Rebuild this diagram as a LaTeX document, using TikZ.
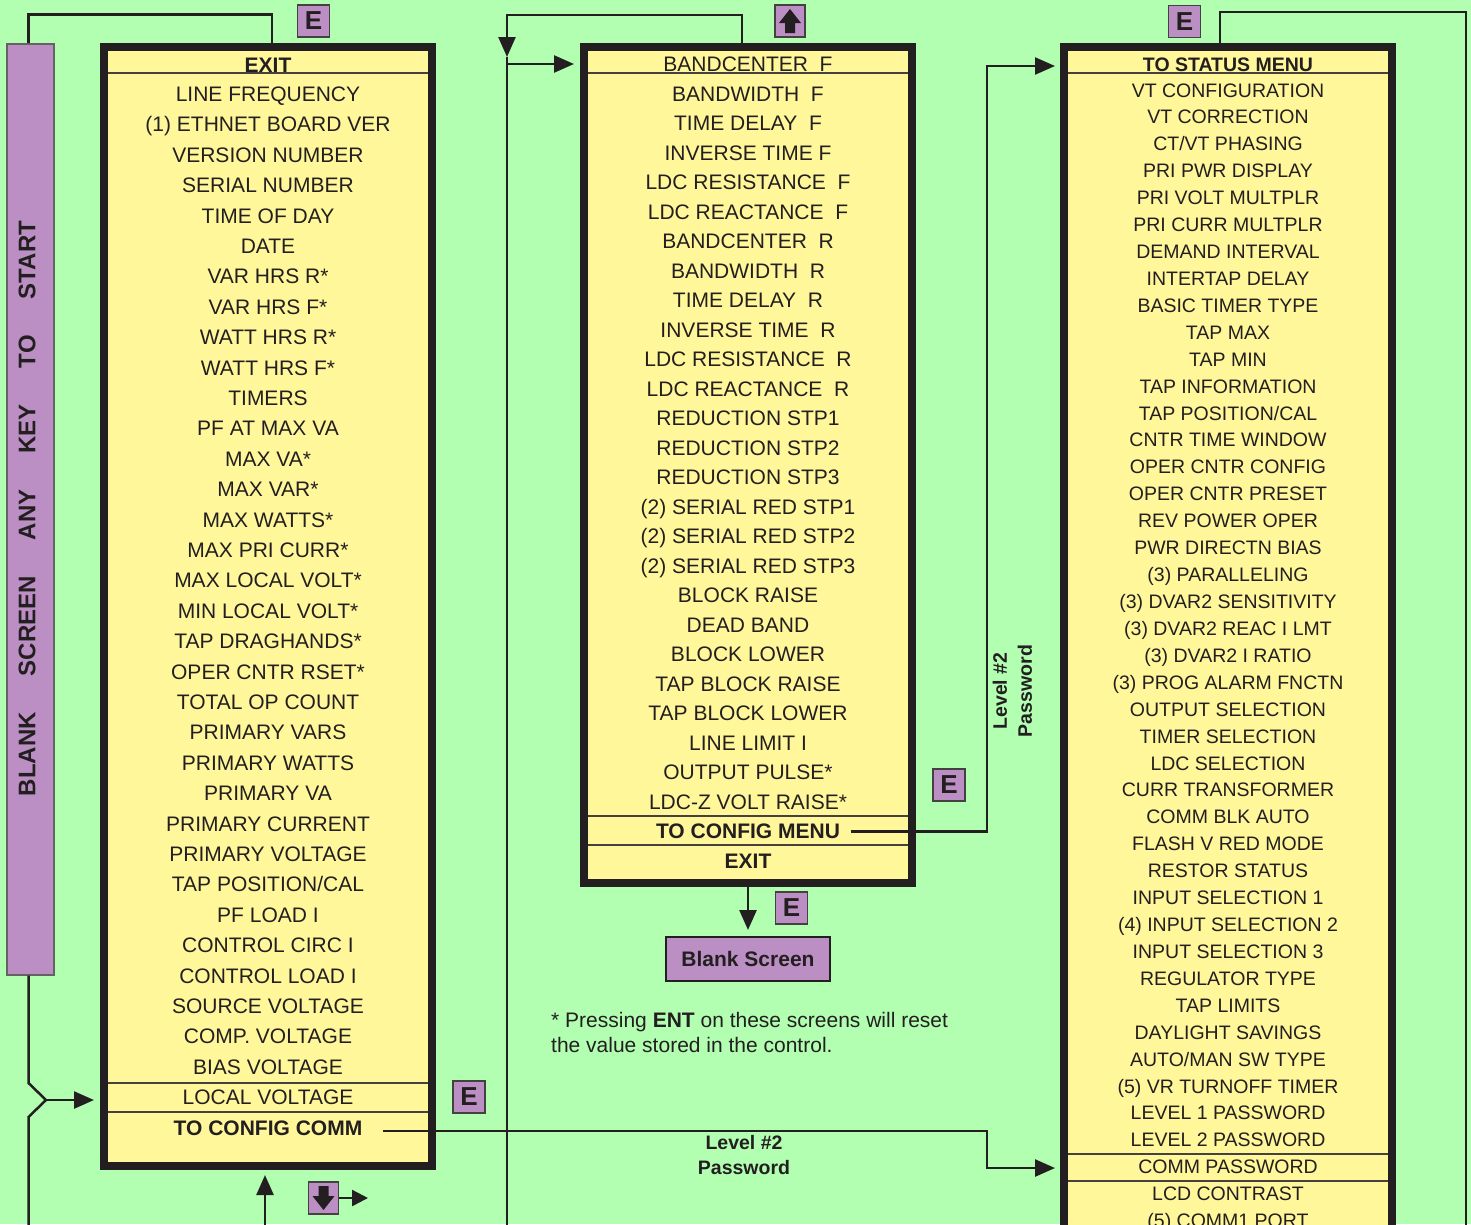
\documentclass[tikz,border=0pt]{standalone}
\usepackage{fontspec}
\setmainfont{Liberation Sans}
\usetikzlibrary{arrows.meta}

\definecolor{bggreen}{RGB}{178,255,178}
\definecolor{menuyellow}{RGB}{255,247,153}
\definecolor{keypurple}{RGB}{187,143,196}
\definecolor{inkblack}{RGB}{35,31,32}

\tikzset{
  menubox/.style={draw=inkblack, line width=8pt, fill=menuyellow, inner sep=0pt},
  menuitem/.style={anchor=base, inner sep=0pt, text=inkblack, font=\fontsize{21}{21}\selectfont},
  menuhead/.style={menuitem, font=\bfseries\fontsize{21}{21}\selectfont},
  statusitem/.style={menuitem, font=\fontsize{19.5}{19.5}\selectfont},
  statushead/.style={menuitem, font=\bfseries\fontsize{19.5}{19.5}\selectfont},
  rowline/.style={draw=inkblack!85, line width=1.3pt},
  keycap/.style={draw=inkblack!85, line width=1.2pt, fill=keypurple, minimum width=32pt,
    minimum height=32pt, inner sep=0pt, text=inkblack, font=\bfseries\fontsize{26}{26}\selectfont},
  startbox/.style={draw=inkblack!70, line width=1.2pt, fill=keypurple, minimum width=47pt,
    minimum height=931pt, inner sep=0pt},
  blankbox/.style={draw=inkblack, line width=2pt, fill=keypurple, minimum width=164pt,
    minimum height=44pt, inner sep=0pt, text=inkblack, font=\bfseries\fontsize{21}{21}\selectfont},
  pwlabel/.style={align=center, inner sep=0pt, text=inkblack, font=\bfseries\fontsize{19.5}{25}\selectfont},
  note/.style={anchor=base west, inner sep=0pt, text=inkblack, font=\fontsize{21}{21}\selectfont},
  flow/.style={draw=inkblack, line width=2.5pt},
  >={Triangle[length=20pt,width=17pt]}
}

\begin{document}
\begin{tikzpicture}[x=1pt,y=-1pt]
  \useasboundingbox (0,0) rectangle (1471,1224);
  \clip (0,0) rectangle (1471,1224);
  \fill[bggreen] (0,0) rectangle (1471,1224);

  % blank screen bar
  \node[startbox] (startbar) at (30.5,509.5) {};
  \node[rotate=90, inner sep=0pt, text=inkblack, font=\bfseries\fontsize{24}{24}\selectfont]
    (startlabel) at (27,508.5)
    {BLANK\hspace{36pt}SCREEN\hspace{36pt}ANY\hspace{36pt}KEY\hspace{36pt}TO\hspace{36pt}START};

  % the three menu columns
  \node[menubox, minimum width=328pt, minimum height=1119pt] (menuA) at (268,606.5) {};
  \node[menubox, minimum width=328pt, minimum height=836pt] (menuB) at (748,465) {};
  \node[menubox, minimum width=328pt, minimum height=1213pt] (menuC) at (1228,653.5) {};

  % row separators
  \draw[rowline] (108,73) -- (428,73);
  \draw[rowline] (108,1083) -- (428,1083);
  \draw[rowline] (108,1112) -- (428,1112);
  \draw[rowline] (588,73) -- (908,73);
  \draw[rowline] (588,816) -- (908,816);
  \draw[rowline] (588,845) -- (908,845);
  \draw[rowline] (1068,73) -- (1388,73);
  \draw[rowline] (1068,1154) -- (1388,1154);
  \draw[rowline] (1068,1181) -- (1388,1181);

  % first column
  \node[menuhead] (exitA) at (268,72) {EXIT};
  \foreach \t [count=\i from 0] in {LINE FREQUENCY, {(1) ETHNET BOARD VER}, VERSION NUMBER,
      SERIAL NUMBER, TIME OF DAY, DATE, VAR HRS R*, VAR HRS F*, WATT HRS R*, WATT HRS F*,
      TIMERS, PF AT MAX VA, MAX VA*, MAX VAR*, MAX WATTS*, MAX PRI CURR*, MAX LOCAL VOLT*,
      MIN LOCAL VOLT*, TAP DRAGHANDS*, OPER CNTR RSET*, TOTAL OP COUNT, PRIMARY VARS,
      PRIMARY WATTS, PRIMARY VA, PRIMARY CURRENT, PRIMARY VOLTAGE, TAP POSITION/CAL,
      PF LOAD I, CONTROL CIRC I, CONTROL LOAD I, SOURCE VOLTAGE, COMP. VOLTAGE, BIAS VOLTAGE}
    \node[menuitem] (a\i) at (268,101.5+30.4*\i) {\t};
  \node[menuitem] (localv) at (268,1104.7) {LOCAL VOLTAGE};
  \node[menuhead] (cfgcomm) at (268,1135.1) {TO CONFIG COMM};

  % second column
  \node[menuitem] (bandF) at (748,71.5) {BANDCENTER\ \ F};
  \foreach \t [count=\i from 1] in {BANDWIDTH\ \ F, TIME DELAY\ \ F, INVERSE TIME F,
      LDC RESISTANCE\ \ F, LDC REACTANCE\ \ F, BANDCENTER\ \ R, BANDWIDTH\ \ R,
      TIME DELAY\ \ R, INVERSE TIME\ \ R, LDC RESISTANCE\ \ R, LDC REACTANCE\ \ R,
      REDUCTION STP1, REDUCTION STP2, REDUCTION STP3, {(2) SERIAL RED STP1},
      {(2) SERIAL RED STP2}, {(2) SERIAL RED STP3}, BLOCK RAISE, DEAD BAND, BLOCK LOWER,
      TAP BLOCK RAISE, TAP BLOCK LOWER, LINE LIMIT I, OUTPUT PULSE*, LDC-Z VOLT RAISE*}
    \node[menuitem] (b\i) at (748,71.5+29.5*\i) {\t};
  \node[menuhead] (cfgmenu) at (748,838.5) {TO CONFIG MENU};
  \node[menuhead] (exitB) at (748,868) {EXIT};

  % third column
  \node[statushead] (status) at (1228,71) {TO STATUS MENU};
  \foreach \t [count=\i from 0] in {VT CONFIGURATION, VT CORRECTION, CT/VT PHASING,
      PRI PWR DISPLAY, PRI VOLT MULTPLR, PRI CURR MULTPLR, DEMAND INTERVAL, INTERTAP DELAY,
      BASIC TIMER TYPE, TAP MAX, TAP MIN, TAP INFORMATION, TAP POSITION/CAL,
      CNTR TIME WINDOW, OPER CNTR CONFIG, OPER CNTR PRESET, REV POWER OPER,
      PWR DIRECTN BIAS, {(3) PARALLELING}, {(3) DVAR2 SENSITIVITY}, {(3) DVAR2 REAC I LMT},
      {(3) DVAR2 I RATIO}, {(3) PROG ALARM FNCTN}, OUTPUT SELECTION, TIMER SELECTION,
      LDC SELECTION, CURR TRANSFORMER, COMM BLK AUTO, FLASH V RED MODE, RESTOR STATUS,
      INPUT SELECTION 1, {(4) INPUT SELECTION 2}, INPUT SELECTION 3, REGULATOR TYPE,
      TAP LIMITS, DAYLIGHT SAVINGS, AUTO/MAN SW TYPE, {(5) VR TURNOFF TIMER},
      LEVEL 1 PASSWORD, LEVEL 2 PASSWORD, COMM PASSWORD, LCD CONTRAST, {(5) COMM1 PORT}}
    \node[statusitem] (c\i) at (1228,97+26.92*\i) {\t};

  % keys
  \node[keycap] (keyExitA) at (313.5,21) {E};
  \node[keycap] (keyExitC) at (1184.5,21.5) {E};
  \node[keycap] (keyCfg) at (949,785) {E};
  \node[keycap] (keyBlank) at (791.5,908) {E};
  \node[keycap] (keyLocal) at (469,1097) {E};
  \node[keycap, minimum width=30pt] (upkey) at (790,21) {};
  \fill[inkblack, shift={(upkey.center)}] (0,-12) -- (11,2) -- (5,2) -- (5,12) -- (-5,12)
    -- (-5,2) -- (-11,2) -- cycle;
  \node[keycap, minimum width=30pt] (downkey) at (323.5,1198) {};
  \fill[inkblack, shift={(downkey.center)}] (0,12) -- (11,-2) -- (5,-2) -- (5,-12) -- (-5,-12)
    -- (-5,-2) -- (-11,-2) -- cycle;

  \node[blankbox] (blank) at (748,959) {Blank Screen};
  \node[pwlabel] (pwBottom) at (744,1155) {Level \#2\\Password};
  \node[pwlabel, rotate=90] (pwSide) at (1012.5,691) {Level \#2\\Password};
  \node[note] (foot1) at (551,1027.5) {* Pressing \textbf{ENT} on these screens will reset};
  \node[note] (foot2) at (551,1052.5) {the value stored in the control.};

  % connectors
  \coordinate (kinkTop) at (28.5,1083);
  \coordinate (kinkTip) at (46,1100);
  \coordinate (kinkBot) at (28.5,1117);
  \coordinate (feedA) at (28.5,1230);
  \coordinate (upfeed) at (265,1230);
  \coordinate (nextcol) at (368,1198);
  \coordinate (loopB) at (507,57);
  \coordinate (loopBbot) at (507,1230);
  \coordinate (feedB) at (507,64);
  \coordinate (loopC) at (1466,1230);
  \coordinate (riseC) at (987,66);
  \coordinate (dropC) at (987,1168);

  \draw[flow] ([xshift=-2pt]startbar.north) -- ++(0,-29) -| ([xshift=4pt]menuA.north);
  \draw[flow] ([xshift=-2pt]startbar.south) -- (kinkTop) -- (kinkTip) -- (kinkBot) -- (feedA);
  \draw[flow,->,shorten >=6pt] (kinkTip) -- (kinkTip -| menuA.west);
  \draw[flow,->,shorten >=5pt] (upfeed) -- (upfeed |- menuA.south);
  \draw[flow,-{Triangle[length=16pt,width=16pt]}] (downkey.east) -- (nextcol);

  \draw[flow,->] ([xshift=-6pt]menuB.north) -- ++(0,-28) -| (loopB);
  \draw[flow] (loopB) -- (loopBbot);
  \draw[flow,->,shorten >=6pt] (feedB) -- (feedB -| menuB.west);
  \draw[flow,->,shorten >=6pt] (menuB.south) -- (blank.north);

  \draw[flow] ([xshift=-8pt]menuC.north) -- ++(0,-31) -| (loopC);
  \draw[flow,->,shorten >=5pt] ([xshift=11pt]cfgmenu.east) -| (riseC) -- (riseC -| menuC.west);
  \draw[flow,->,shorten >=5pt] ([xshift=20pt,yshift=-3pt]cfgcomm.east) -| (dropC) -- (dropC -| menuC.west);
\end{tikzpicture}
\end{document}
